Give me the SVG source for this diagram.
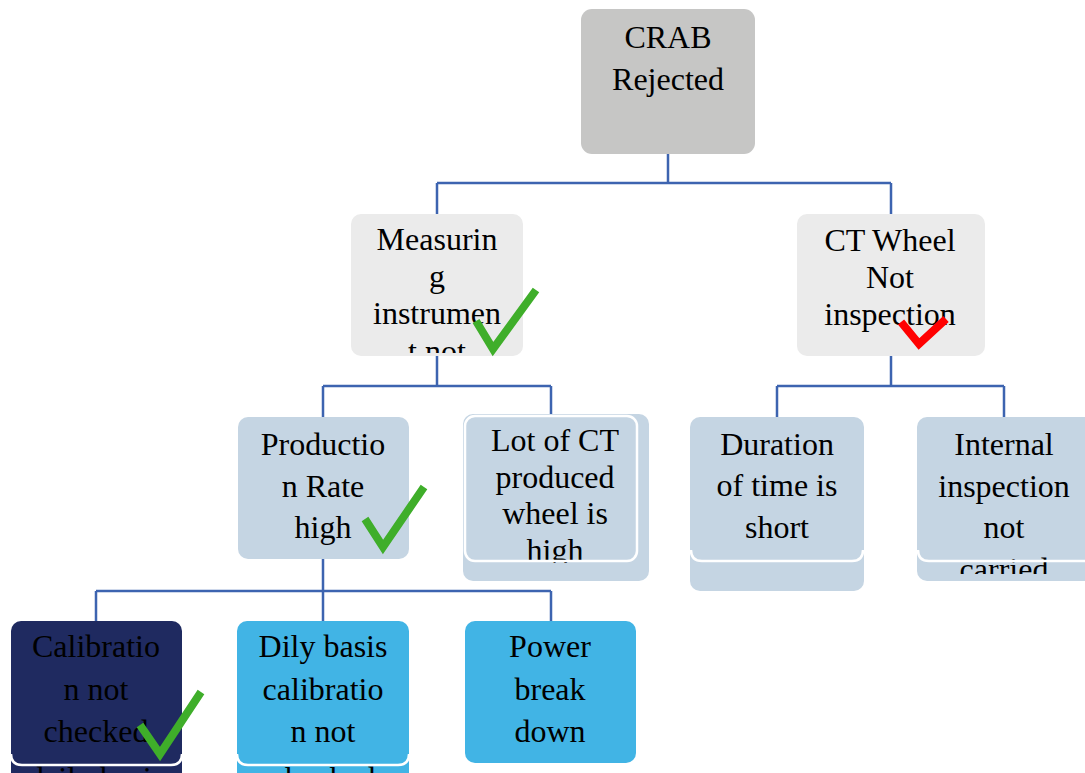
<svg xmlns="http://www.w3.org/2000/svg" width="1085" height="773" viewBox="0 0 1085 773">
<style>
.t{font-family:"Liberation Serif","Times New Roman",serif;font-size:32px;text-anchor:middle;fill:#000}
.c{fill:none;stroke:#3d64b0;stroke-width:2.5}
.ck{fill:none;stroke:#3fae2a;stroke-width:8;stroke-linejoin:miter}
.rk{fill:none;stroke:#ff0000;stroke-width:8;stroke-linejoin:miter}
.gray{fill:#c6c6c5}
.lgray{fill:#ebebeb}
.blue{fill:#c5d5e3}
.navy{fill:#1f2a60}
.sky{fill:#41b4e5}
.edge{fill:none;stroke:#ffffff;stroke-width:2.5}
</style>
<defs>
<clipPath id="cpM"><rect x="351" y="214" width="172" height="139" rx="10"/></clipPath>
<clipPath id="cpL"><rect x="463" y="414" width="186" height="149"/></clipPath>
<clipPath id="cpI"><rect x="917" y="417" width="168" height="157"/></clipPath>
</defs>
<g id="connectors">
<path class="c" d="M668 154V183M437 183H891M437 183V214M891 183V214"/>
<path class="c" d="M437 356V386M323 386H551M323 386V417M551 386V414"/>
<path class="c" d="M891 356V386M777 386H1004M777 386V417M1004 386V417"/>
<path class="c" d="M323 559V591M96 591H551M96 591V621M323 591V621M551 591V621"/>
</g>
<g id="n-crab">
<rect class="gray" x="581" y="9" width="174" height="145" rx="11"/>
<text class="t" x="668" y="48">CRAB</text>
<text class="t" x="668" y="90">Rejected</text>
</g>
<g id="n-measuring">
<rect class="lgray" x="351" y="214" width="172" height="142" rx="10"/>
<g clip-path="url(#cpM)">
<text class="t" x="437" y="250">Measurin</text>
<text class="t" x="437" y="287">g</text>
<text class="t" x="437" y="324">instrumen</text>
<text class="t" x="437" y="362">t not</text>
</g>
<path class="ck" d="M476 321L493 349L536 290"/>
</g>
<g id="n-ctwheel">
<rect class="lgray" x="797" y="214" width="188" height="142" rx="10"/>
<text class="t" x="890" y="251">CT Wheel</text>
<text class="t" x="890" y="288">Not</text>
<text class="t" x="890" y="325">inspection</text>
<path class="rk" d="M901 322L919 344L946 319"/>
</g>
<g id="n-production">
<rect class="blue" x="238" y="417" width="171" height="142" rx="10"/>
<text class="t" x="323" y="455">Productio</text>
<text class="t" x="323" y="497">n Rate</text>
<text class="t" x="323" y="538">high</text>
<path class="ck" d="M365 519L383 547L424 487"/>
</g>
<g id="n-lot">
<rect class="blue" x="463" y="414" width="186" height="167" rx="10"/>
<rect class="blue" x="465" y="416" width="172" height="145" rx="10"/>
<g clip-path="url(#cpL)">
<text class="t" x="555" y="451">Lot of CT</text>
<text class="t" x="555" y="488">produced</text>
<text class="t" x="555" y="524">wheel is</text>
<text class="t" x="555" y="561">high</text>
</g>
<rect class="edge" x="465" y="416" width="172" height="145" rx="10"/>
</g>
<g id="n-duration">
<rect class="blue" x="690" y="417" width="174" height="174" rx="10"/>
<text class="t" x="777" y="455">Duration</text>
<text class="t" x="777" y="496">of time is</text>
<text class="t" x="777" y="538">short</text>
<path class="edge" d="M691 550Q691 561 702 561H852Q863 561 863 550"/>
</g>
<g id="n-internal">
<rect class="blue" x="917" y="417" width="180" height="164" rx="10"/>
<g clip-path="url(#cpI)">
<text class="t" x="1004" y="455">Internal</text>
<text class="t" x="1004" y="497">inspection</text>
<text class="t" x="1004" y="538">not</text>
<text class="t" x="1004" y="580">carried</text>
</g>
<path class="edge" d="M918 550Q918 561 929 561H1090"/>
</g>
<g id="n-calibration">
<rect class="navy" x="11" y="621" width="171" height="170" rx="10"/>
<text class="t" x="96" y="657">Calibratio</text>
<text class="t" x="96" y="700">n not</text>
<text class="t" x="96" y="742">checked</text>
<text class="t" x="96" y="789">daily basis</text>
<path class="edge" d="M11 754Q11 765 22 765H171Q182 765 182 754"/>
<path class="ck" d="M140 725L160 754L201 692"/>
</g>
<g id="n-dily">
<rect class="sky" x="237" y="621" width="172" height="170" rx="10"/>
<text class="t" x="323" y="657">Dily basis</text>
<text class="t" x="323" y="700">calibratio</text>
<text class="t" x="323" y="742">n not</text>
<text class="t" x="323" y="789">checked</text>
<path class="edge" d="M237 754Q237 765 248 765H398Q409 765 409 754"/>
</g>
<g id="n-power">
<rect class="sky" x="465" y="621" width="171" height="142" rx="10"/>
<text class="t" x="550" y="657">Power</text>
<text class="t" x="550" y="700">break</text>
<text class="t" x="550" y="742">down</text>
</g>
</svg>
